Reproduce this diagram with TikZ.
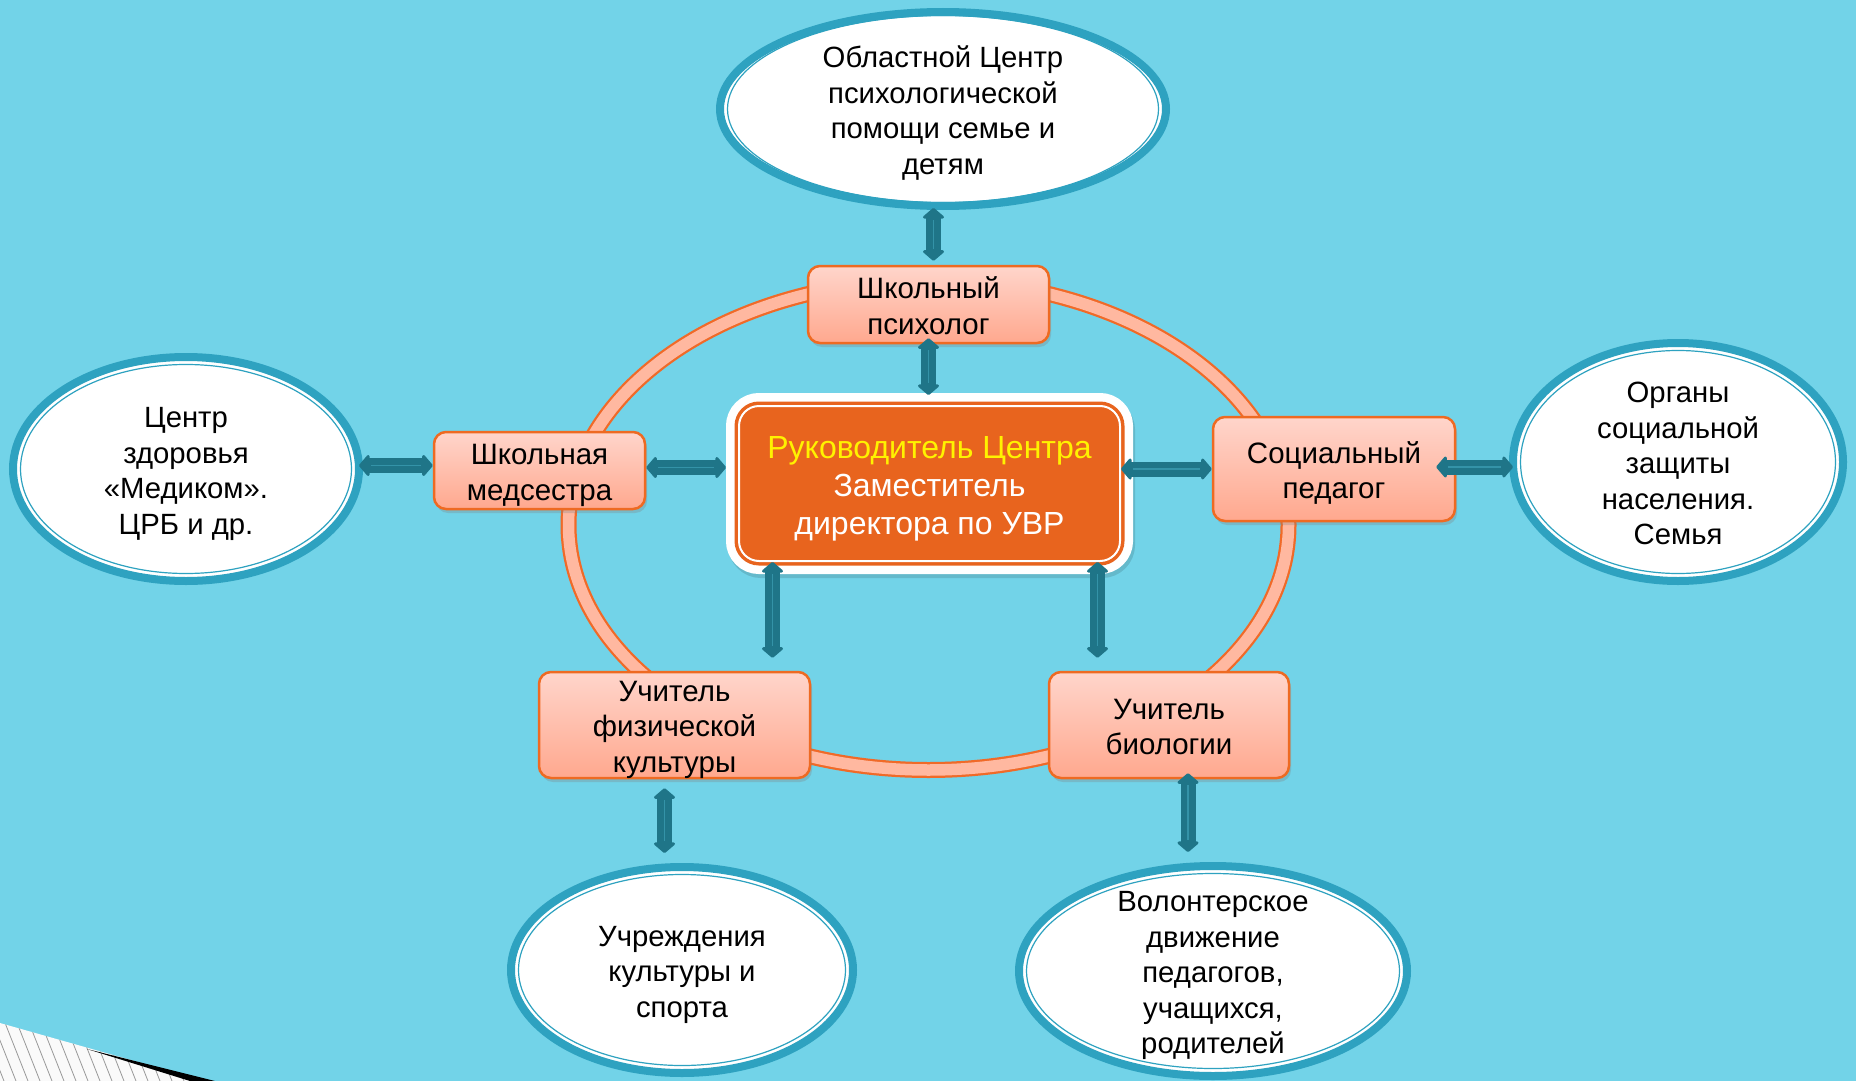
\documentclass[tikz,border=0pt]{standalone}
\usepackage{fontspec}
\setmainfont{Liberation Sans}
\usetikzlibrary{arrows.meta,shapes.geometric,shadows,calc}
\definecolor{bg}{HTML}{72D3E8}
\definecolor{ellteal}{HTML}{2EA2C0}
\definecolor{arrteal}{HTML}{1F7588}
\definecolor{arrlight}{HTML}{3493A8}
\definecolor{cenor}{HTML}{E8641E}
\definecolor{boxedge}{HTML}{EE6A22}
\definecolor{boxtop}{HTML}{FFD5CB}
\definecolor{boxbot}{HTML}{FFA88E}
\definecolor{ringfill}{HTML}{FFB8A0}
\definecolor{ringedge}{HTML}{F06A28}
\newcommand{\mytext}[2][-11pt]{\raisebox{#1}[0pt][0pt]{\makebox[0pt]{\begin{tabular}{@{}c@{}}#2\end{tabular}}}}
\begin{document}
\begin{tikzpicture}[x=1pt,y=-1pt,
  ell/.style={ellipse, draw=ellteal, line width=8pt, fill=white, inner sep=0pt,
    font=\fontsize{29.3}{35.5}\selectfont, text=black},
  box/.style={rectangle, rounded corners=12pt, draw=boxedge, line width=2.5pt,
    top color=boxtop, bottom color=boxbot, inner sep=0pt,
    font=\fontsize{29.5}{35.5}\selectfont, text=black,
    drop shadow={shadow xshift=2pt, shadow yshift=-4pt, opacity=0.3}},
  cbox/.style={rectangle, rounded corners=20pt, fill=cenor, draw=white, line width=2pt,
    preaction={draw=black, opacity=0.12, line width=26pt, transform canvas={xshift=2pt, yshift=-4pt}},
    preaction={draw=white, line width=26pt},
    preaction={draw=cenor, line width=9pt},
    inner sep=0pt, font=\fontsize{32}{38}\selectfont, text=white},
  biarr/.style={draw=arrteal, line width=15pt,
    {Triangle[width=25pt,length=11pt,round]}-{Triangle[width=25pt,length=11pt,round]},
    postaction={draw=arrlight, arrows=-, line width=1.6pt, shorten <=12pt, shorten >=12pt}}
]
\fill[bg] (0,0) rectangle (1856,1081);
\useasboundingbox (0,0) rectangle (1856,1081);

% ring
\draw[ringedge, line width=16pt] (928.5,525) ellipse [x radius=360, y radius=245];
\draw[ringfill, line width=11.5pt] (928.5,525) ellipse [x radius=360, y radius=245];

% outer ellipses
\node[ell, minimum width=446pt, minimum height=194pt] (top) at (943,109)
  {\mytext{Областной Центр\\психологической\\помощи семье и\\детям}};
\node[ell, minimum width=346pt, minimum height=224pt] (left) at (186,469)
  {\mytext{Центр\\здоровья\\«Медиком».\\ЦРБ и др.}};
\node[ell, minimum width=330pt, minimum height=238pt] (right) at (1678,462)
  {\mytext{Органы\\социальной\\защиты\\населения.\\Семья}};
\node[ell, minimum width=342pt, minimum height=206pt] (bl) at (682,970)
  {\mytext{Учреждения\\культуры и\\спорта}};
\node[ell, minimum width=388pt, minimum height=210pt] (br) at (1213,971)
  {\mytext{Волонтерское\\движение\\педагогов,\\учащихся,\\родителей}};
\foreach \n/\rx/\ry in {top/215.5/93.5, left/165.5/104.5, right/157.5/111.5, bl/163.5/95.5, br/186.5/97.5}
  \draw[ellteal, line width=1.2pt] (\n.center) ellipse [x radius=\rx, y radius=\ry];

% boxes
\node[box, minimum width=241pt, minimum height=77pt] (psych) at (928.5,304.5) {\mytext{Школьный\\психолог}};
\node[box, minimum width=211pt, minimum height=77pt] (nurse) at (539.5,470.5) {\mytext{Школьная\\медсестра}};
\node[box, minimum width=242pt, minimum height=104pt] (social) at (1334,469) {\mytext{Социальный\\педагог}};
\node[box, minimum width=271pt, minimum height=106pt] (phys) at (674.5,725) {\mytext{Учитель\\физической\\культуры}};
\node[box, minimum width=240pt, minimum height=106pt] (bio) at (1169,725) {\mytext{Учитель\\биологии}};

% center
\node[cbox, minimum width=381pt, minimum height=155pt] (cen) at (929.5,483.5)
  {\mytext[-12pt]{\textcolor{yellow}{Руководитель Центра}\\Заместитель\\директора по УВР}};

% connectors (yshift positive = up)
\draw[biarr] ([xshift=5pt,yshift=4pt]psych.north) -- ([xshift=5pt,yshift=2pt]psych.north |- top.south);
\draw[biarr] ([yshift=6pt]psych.south) -- ([yshift=10pt]psych.south |- cen.north);
\draw[biarr] ([yshift=5pt]nurse.west) -- ([yshift=5pt,xshift=-4pt]nurse.west -| left.east);
\draw[biarr] ([yshift=3pt]nurse.east) -- ([yshift=3pt,xshift=-12pt]nurse.east -| cen.west);
\draw[biarr] (social.west) -- (social.west -| cen.east);
\draw[biarr] ([xshift=-20pt,yshift=2pt]social.east) -- ([yshift=2pt,xshift=4pt]social.east -| right.west);
\draw[biarr] ([xshift=-157pt]cen.south) -- ([xshift=-157pt,yshift=13pt]cen.south |- phys.north);
\draw[biarr] ([xshift=168pt]cen.south) -- ([xshift=168pt,yshift=13pt]cen.south |- bio.north);
\draw[biarr] ([xshift=-10pt,yshift=-9pt]phys.south) -- ([xshift=-10pt,yshift=10pt]phys.south |- bl.north);
\draw[biarr] ([xshift=19pt,yshift=6pt]bio.south) -- ([xshift=19pt,yshift=10pt]bio.south |- br.north);

% page-curl decoration
\begin{scope}
\clip (0,1023) -- (205,1081) -- (0,1081) -- cycle;
\fill[white!96!gray] (0,1000) rectangle (220,1081);
\foreach \i in {-40,-28,...,220} \draw[gray!80, line width=0.8pt] (\i,1000) -- (\i+32,1081);
\end{scope}
\fill[black] (87,1049) -- (215,1081) -- (190,1081) -- cycle;
\end{tikzpicture}
\end{document}
